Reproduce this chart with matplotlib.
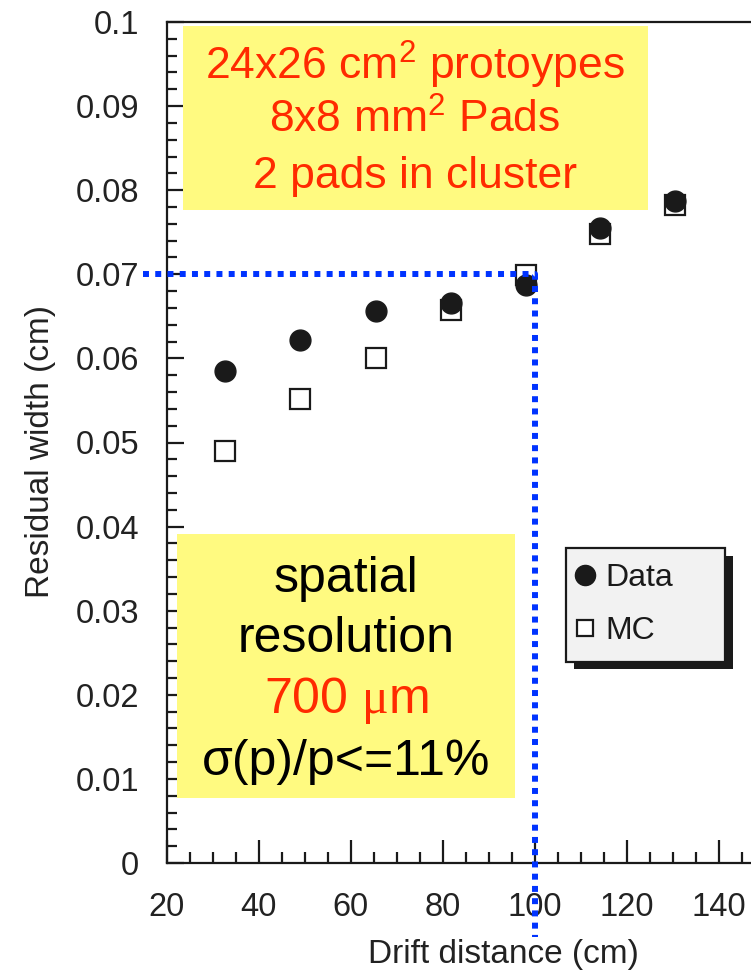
import numpy as np
import matplotlib
matplotlib.use("Agg")
import matplotlib.pyplot as plt
from matplotlib.patches import Rectangle
from matplotlib.ticker import MultipleLocator, FuncFormatter
import matplotlib.patheffects as pe

plt.rcParams['font.family'] = ['Liberation Sans', 'DejaVu Sans']
plt.rcParams['mathtext.fontset'] = 'custom'
plt.rcParams['mathtext.rm'] = 'Liberation Sans'
plt.rcParams['mathtext.it'] = 'Liberation Sans:italic'
plt.rcParams['mathtext.tt'] = 'Liberation Serif'

# drift distance (cm)
drift = [32.6, 49.0, 65.4, 81.7, 98.0, 114.2, 130.4]
# residual width (cm)
data_width = [0.0585, 0.0622, 0.0656, 0.0666, 0.0687, 0.0755, 0.0787]
mc_width = [0.0490, 0.0552, 0.0600, 0.0658, 0.0699, 0.0748, 0.0782]

# guide lines marking the 700 um resolution at 100 cm
guide_x = [14.8, 100, 100]
guide_y = [0.07, 0.07, -0.0088]

box1_lines = [r"24x26 cm$^{2}$ protoypes", r"8x8 mm$^{2}$ Pads", "2 pads in cluster"]
box2_lines = [("spatial", "black"), ("resolution", "black"),
              (r"700 $\mathtt{\mu}$m", "#ff2a00"), ("\u03c3(p)/p<=11%", "black")]

W, H = 751, 975
def fx(px):
    return px / W
def fy(py):
    return 1 - py / H

fig = plt.figure(figsize=(W / 100, H / 100), dpi=100)
ppu = 4.6025
ax = fig.add_axes([fx(166.7), fy(863), 130 * ppu / W, (863 - 22) / H])

ax.plot(drift, mc_width, ls='none', marker='s', ms=14, mfc='white',
        mec='#1a1a1a', mew=1.6, zorder=3)
ax.plot(drift, data_width, ls='none', marker='o', ms=15, mfc='#1a1a1a',
        mec='#1a1a1a', zorder=4)

ax.plot(guide_x, guide_y, color='#0033ff', lw=4.3, ls=(0, (1, 1.05)),
        dash_capstyle='butt', clip_on=False, zorder=6)

ax.set_xlim(20, 150)
ax.set_ylim(0, 0.1)
ax.xaxis.set_major_locator(MultipleLocator(20))
ax.xaxis.set_minor_locator(MultipleLocator(5))
ax.yaxis.set_major_locator(MultipleLocator(0.01))
ax.yaxis.set_minor_locator(MultipleLocator(0.002))
ax.yaxis.set_major_formatter(FuncFormatter(lambda v, p: '%g' % round(v, 3)))

for s in ax.spines.values():
    s.set_linewidth(1.6)
    s.set_color('#1a1a1a')

ax.tick_params(axis='both', which='both', direction='in', width=1.6,
               color='#1a1a1a', labelsize=23.5, labelcolor='#222222',
               top=False, right=False)
ax.tick_params(axis='x', which='major', length=16.5, pad=21)
ax.tick_params(axis='x', which='minor', length=8)
ax.tick_params(axis='y', which='major', length=12, pad=20)
ax.tick_params(axis='y', which='minor', length=7)

ax.set_xlabel("Drift distance (cm)", fontsize=24, color='#222222',
              va='center', ha='center')
ax.xaxis.set_label_coords((503 - 166.7) / (130 * ppu), (863 - 954) / 841)
ax.set_ylabel("Residual width (cm)", fontsize=24, color='#222222',
              va='center', ha='center')
ax.yaxis.set_label_coords((41 - 166.7) / (130 * ppu), (863 - 452) / 841)

# yellow annotation boxes
yellow = '#fffa80'
for x0, y0, x1, y1 in [(183, 26, 648, 210), (177, 534, 515, 798)]:
    r = Rectangle((fx(x0), fy(y1)), (x1 - x0) / W, (y1 - y0) / H,
                  transform=fig.transFigure, fc=yellow, ec='none', zorder=5)
    r.set_figure(fig)
    fig.patches.append(r)

for txt, base in zip(box1_lines, [80, 133, 188]):
    fig.text(fx(415), fy(base), txt, fontsize=32, color='#ff2a00',
             ha='center', va='baseline', zorder=7)
for (txt, col), base in zip(box2_lines, [592, 652, 713, 775]):
    fig.text(fx(346), fy(base), txt, fontsize=36, color=col,
             ha='center', va='baseline', zorder=7)

# legend
h_data, = ax.plot([], [], ls='none', marker='o', ms=14.5, mfc='#1a1a1a', mec='#1a1a1a')
h_mc, = ax.plot([], [], ls='none', marker='s', ms=12, mfc='white', mec='#1a1a1a', mew=1.6)
leg = ax.legend([h_data, h_mc], ["Data", "MC"], loc='upper left', mode='expand',
                bbox_to_anchor=(fx(566), fy(653), (725 - 566) / W, (653 - 548) / H),
                bbox_transform=fig.transFigure,
                borderaxespad=0, fancybox=False, framealpha=1, facecolor='#f2f2f2',
                edgecolor='#1a1a1a', fontsize=23, handlelength=0.2,
                handletextpad=0.55, labelspacing=0.72, borderpad=0.48,
                labelcolor='#1a1a1a')
leg.get_frame().set_linewidth(1.6)
leg.get_frame().set_path_effects([pe.withSimplePatchShadow(offset=(5.5, -5.5),
                                  shadow_rgbFace='#1a1a1a', alpha=1)])
leg.set_zorder(8)

fig.savefig("out.png", dpi=100)
